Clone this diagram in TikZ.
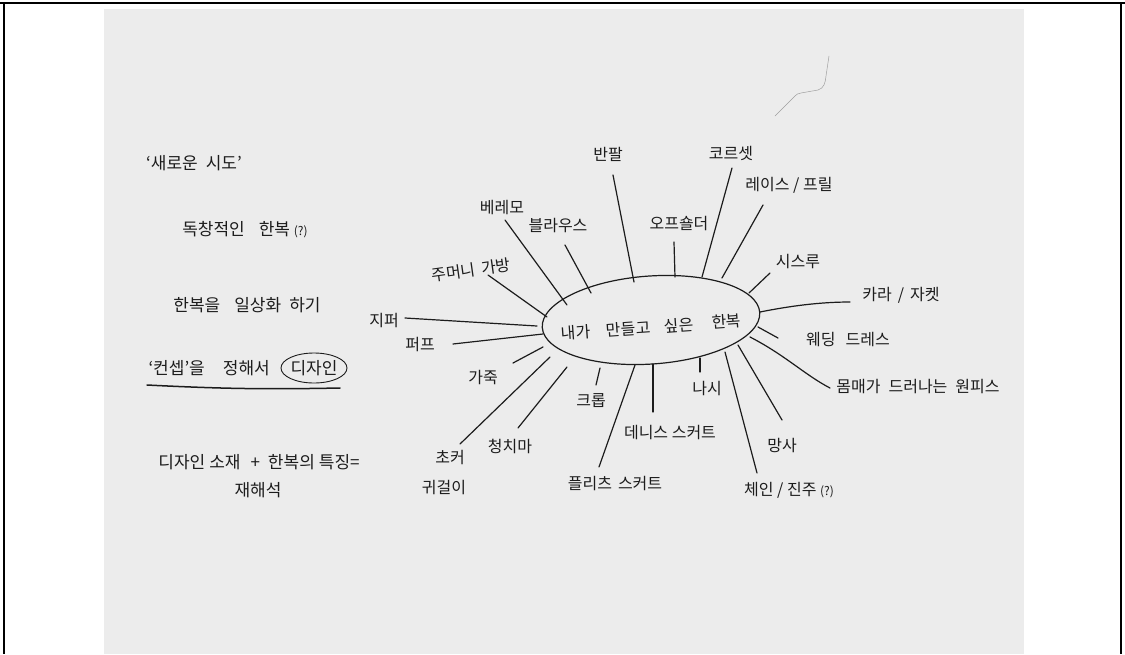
\documentclass[tikz,border=0pt]{standalone}
\usepackage{fontspec}
\newfontfamily\kr{Noto Sans CJK KR}
\usetikzlibrary{shapes.geometric}
\definecolor{paper}{RGB}{236,236,236}
\definecolor{ink}{RGB}{28,28,28}
\begin{document}
\begin{tikzpicture}[x=1pt,y=-1pt,
  lbl/.style={font=\kr\fontsize{16}{18}\selectfont, text=ink, inner sep=0pt},
  note/.style={font=\kr\fontsize{17}{19}\selectfont, text=ink, inner sep=0pt},
  branch/.style={draw=ink, line width=1.2pt, line cap=round},
  frameline/.style={draw=black, line width=1.2pt},
]
\useasboundingbox (0,0) rectangle (1125,654);
% paper and frame
\fill[paper] (104,9) rectangle (1024,654);
\draw[frameline] (0,3) -- (1125,3);
\draw[frameline] (4,3) -- (4,654);
\draw[frameline] (1121,3) -- (1121,654);
% stray pencil mark
\draw[gray!75, line width=0.5pt, line cap=round] (775,116) -- (790,101) to[out=40,in=185] (801,93) -- (818,90) to[out=15,in=-95] (826,76) -- (829,56);

% left notes
\node[note] (n1) at (194,163) {‘새로운\hspace{8pt}시도’};
\node[note] (n2) at (245,230) {독창적인\hspace{14pt}한복 {\fontsize{12}{13}\selectfont(?)}};
\node[note] (n3) at (247,305) {한복을\hspace{14pt}일상화\hspace{8pt}하기};
\node[note, anchor=east] (n4) at (270,368) {‘컨셉’을\hspace{18pt}정해서};
\node[note] (n4b) at (314,368) {디자인};
\draw[ink, line width=0.9pt] (n4b.center) ellipse [x radius=33, y radius=15];
\coordinate (u1) at (147,385);
\coordinate (u2) at (340,388);
\draw[ink, line width=1.5pt, line cap=round] (u1) to[bend right=2] (u2);
\node[note] (n5) at (259,462) {디자인\hspace{4pt}소재\hspace{10pt}+\hspace{8pt}한복의\hspace{4pt}특징=};
\node[note] (n6) at (258,490) {재해석};

% centre
\node[draw=ink, line width=1.2pt, ellipse, minimum width=218, minimum height=88, rotate=4] (c) at (651,320) {};
\node[lbl, rotate=4] (ct) at (651,327) {내가\hspace{16pt}만들고\hspace{14pt}싶은\hspace{18pt}한복};

% labels
\node[lbl] (banpal) at (608,154) {반팔};
\node[lbl] (corset) at (731,153) {코르셋};
\node[lbl] (lace) at (789,185) {레이스 / 프릴};
\node[lbl] (offsh) at (679,224) {오프숄더};
\node[lbl] (seethru) at (798,262) {시스루};
\node[lbl] (blouse) at (558,226) {블라우스};
\node[lbl] (beret) at (502,208) {베레모};
\node[lbl, rotate=8] (pouch) at (471,270) {주머니\hspace{6pt}가방};
\node[lbl] (zipper) at (384,321) {지퍼};
\node[lbl] (puff) at (420,345) {퍼프};
\node[lbl] (leather) at (483,378) {가죽};
\node[lbl] (choker) at (450,458) {초커};
\node[lbl] (earring) at (444,488) {귀걸이};
\node[lbl] (cheong) at (510,446) {청치마};
\node[lbl] (crop) at (591,401) {크롭};
\node[lbl] (pleats) at (615,484) {플리츠\hspace{6pt}스커트};
\node[lbl] (denim) at (670,433) {데니스 스커트};
\node[lbl] (nasi) at (707,389) {나시};
\node[lbl] (mangsa) at (782,446) {망사};
\node[lbl] (chain) at (789,490) {체인 / 진주 {\fontsize{12}{13}\selectfont(?)}};
\node[lbl] (bodycon) at (918,387) {몸매가\hspace{8pt}드러나는\hspace{8pt}원피스};
\node[lbl] (wedding) at (848,340) {웨딩\hspace{10pt}드레스};
\node[lbl] (collar) at (901,295) {카라\hspace{6pt}/\hspace{6pt}자켓};

% branch end points
\coordinate (a1) at (613,175); \coordinate (b1) at (634,282);
\coordinate (a2) at (732,168); \coordinate (b2) at (702,277);
\coordinate (a3) at (763,205); \coordinate (b3) at (722,278);
\coordinate (a4) at (674,242); \coordinate (b4) at (675,277);
\coordinate (a5) at (770,273); \coordinate (b5) at (749,293);
\coordinate (a6) at (565,245); \coordinate (b6) at (591,293);
\coordinate (a7) at (505,220); \coordinate (b7) at (567,305);
\coordinate (a8) at (488,275); \coordinate (b8) at (547,317);
\coordinate (a9) at (405,318); \coordinate (b9) at (537,326);
\coordinate (a10) at (453,344); \coordinate (b10) at (543,334);
\coordinate (a11) at (513,363); \coordinate (b11) at (543,347);
\coordinate (a12) at (460,444); \coordinate (b12) at (550,357);
\coordinate (a13) at (518,428); \coordinate (b13) at (567,367);
\coordinate (a14) at (596,385); \coordinate (b14) at (600,368);
\coordinate (a15) at (599,467); \coordinate (b15) at (635,365);
\coordinate (a16) at (653,412); \coordinate (b16) at (653,364);
\coordinate (a17) at (700,372); \coordinate (b17) at (700,358);
\coordinate (a18) at (782,420); \coordinate (b18) at (738,345);
\coordinate (a19) at (757,473); \coordinate (b19) at (725,352);
\coordinate (a20) at (830,388); \coordinate (b20) at (750,337);
\coordinate (a21) at (778,338); \coordinate (b21) at (758,327);
\coordinate (a22) at (850,302); \coordinate (b22) at (760,312);

\foreach \i in {1,...,19,21} { \draw[branch] (a\i) -- (b\i); }
\draw[branch] (b20) .. controls (785,355) and (805,375) .. (a20);
\draw[branch] (b22) .. controls (790,306) and (820,302) .. (a22);
\end{tikzpicture}
\end{document}
